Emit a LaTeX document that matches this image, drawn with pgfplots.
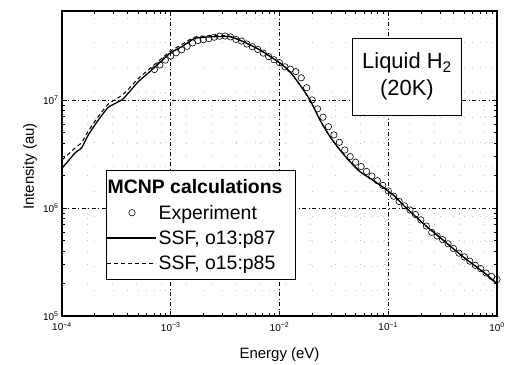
\documentclass[border=0pt]{standalone}
\usepackage{fontspec}
\setmainfont{Liberation Sans}
\usepackage{pgfplots}
\usepackage{pgfplotstable}
\pgfplotsset{compat=1.18}
\pgfplotsset{
  lineleg/.style={legend image code/.code={\draw[##1] (0bp,0bp) -- (49bp,0bp);}},
  markleg/.style={legend image code/.code={\draw[##1] plot coordinates {(25bp,0bp)};}},
}

\pgfplotstableread{
x y
1.000e-4 2.332e6
1.317e-4 3.231e6
1.518e-4 3.617e6
1.745e-4 4.742e6
2.157e-4 6.528e6
2.666e-4 8.557e6
3.540e-4 1.000e7
3.935e-4 1.112e7
5.030e-4 1.477e7
6.679e-4 1.896e7
9.842e-4 2.707e7
1.261e-3 3.115e7
1.671e-3 3.727e7
2.462e-3 3.856e7
3.506e-3 3.856e7
4.647e-3 3.465e7
6.618e-3 2.904e7
1.011e-2 2.200e7
1.249e-2 1.828e7
1.544e-2 1.377e7
1.908e-2 1.000e7
2.357e-2 6.528e6
2.913e-2 4.574e6
3.600e-2 3.443e6
4.449e-2 2.684e6
5.498e-2 2.168e6
6.796e-2 1.884e6
8.400e-2 1.633e6
0.1113 1.319e6
0.1426 1.028e6
0.2177 6.959e5
0.3325 4.875e5
0.5078 3.421e5
0.7757 2.486e5
1.000 1.978e5
}\ssfa

\pgfplotstableread{
x y
1.000e-4 2.783e6
1.317e-4 3.594e6
1.518e-4 4.040e6
1.745e-4 5.160e6
2.157e-4 7.030e6
2.666e-4 9.180e6
3.540e-4 1.101e7
3.935e-4 1.212e7
5.030e-4 1.581e7
6.679e-4 2.021e7
9.842e-4 2.812e7
1.261e-3 3.265e7
1.671e-3 3.831e7
2.462e-3 3.956e7
3.506e-3 3.897e7
4.647e-3 3.465e7
6.618e-3 2.904e7
1.011e-2 2.200e7
1.249e-2 1.828e7
1.544e-2 1.377e7
1.908e-2 1.000e7
2.357e-2 6.528e6
2.913e-2 4.574e6
3.600e-2 3.443e6
4.449e-2 2.684e6
5.498e-2 2.168e6
6.796e-2 1.884e6
8.400e-2 1.633e6
0.1113 1.319e6
0.1426 1.028e6
0.2177 6.959e5
0.3325 4.875e5
0.5078 3.421e5
0.7757 2.486e5
1.000 1.978e5
}\ssfb

\pgfplotstableread{
x y
7.079e-4 1.916e7
7.943e-4 2.110e7
8.913e-4 2.342e7
1.000e-3 2.560e7
1.122e-3 2.735e7
1.259e-3 2.916e7
1.413e-3 3.143e7
1.585e-3 3.378e7
1.778e-3 3.555e7
1.995e-3 3.624e7
2.239e-3 3.702e7
2.512e-3 3.814e7
2.818e-3 3.896e7
3.162e-3 3.913e7
3.548e-3 3.839e7
3.981e-3 3.640e7
4.467e-3 3.518e7
5.012e-3 3.300e7
5.623e-3 3.115e7
6.310e-3 2.941e7
7.079e-3 2.718e7
7.943e-3 2.523e7
8.913e-3 2.361e7
1.000e-2 2.215e7
1.122e-2 2.030e7
1.259e-2 1.929e7
1.413e-2 1.832e7
1.585e-2 1.606e7
1.778e-2 1.300e7
1.995e-2 1.002e7
2.239e-2 8.287e6
2.512e-2 6.930e6
2.818e-2 5.659e6
3.162e-2 4.753e6
3.548e-2 4.058e6
3.981e-2 3.443e6
4.467e-2 2.991e6
5.012e-2 2.655e6
5.623e-2 2.417e6
6.310e-2 2.178e6
7.079e-2 1.979e6
7.943e-2 1.790e6
8.913e-2 1.619e6
0.1000 1.437e6
0.1122 1.286e6
0.1259 1.151e6
0.1413 1.048e6
0.1585 9.583e5
0.1778 8.707e5
0.1995 7.759e5
0.2239 6.813e5
0.2512 5.957e5
0.2818 5.506e5
0.3162 5.098e5
0.3548 4.661e5
0.3981 4.217e5
0.4467 3.823e5
0.5012 3.526e5
0.5623 3.217e5
0.6310 2.947e5
0.7079 2.747e5
0.7943 2.501e5
0.8913 2.321e5
1.0000 2.178e5
}\expdata

\begin{document}
\begin{tikzpicture}
\begin{axis}[
  name=ax,
  scale only axis, width=435bp, height=305bp,
  xmode=log, ymode=log,
  xmin=1e-4, xmax=1, ymin=1e5, ymax=6.67e7,
  xtick={1e-4,1e-3,1e-2,1e-1,1},
  xticklabels={10\textsuperscript{−4},10\textsuperscript{−3},10\textsuperscript{−2},10\textsuperscript{−1},10\textsuperscript{0}},
  ytick={1e5,1e6,1e7},
  yticklabels={10\textsuperscript{5},10\textsuperscript{6},10\textsuperscript{7}},
  tick align=inside,
  xtick pos=both, ytick pos=both,
  xticklabel pos=lower, yticklabel pos=left,
  major tick length=5bp, minor tick length=3bp,
  axis line style={line width=1.2bp},
  every tick/.style={black, line width=0.8bp},
  grid=both,
  major grid style={black, line width=0.5bp, dash pattern=on 4bp off 2.5bp on 1bp off 2.5bp},
  minor grid style={gray!50, line width=0.8bp, dash pattern=on 0.8bp off 24bp},
  tick label style={font=\fontsize{10}{12}\selectfont},
  xticklabel style={yshift=-3bp},
  xlabel={Energy (eV)}, ylabel={Intensity (au)},
  label style={font=\fontsize{15}{18}\selectfont},
  xlabel style={at={(axis description cs:0.5,-0.128)}, anchor=center},
  ylabel style={at={(axis description cs:-0.0736,0.49)}, anchor=center},
  legend cell align=left,
  legend style={at={(0.1011,0.4787)}, anchor=north west, draw=black, line width=0.8bp, fill=white,
    font=\fontsize{19.5}{23}\selectfont, inner xsep=0bp, inner ysep=7bp, row sep=6bp,
    /tikz/every even column/.append style={column sep=5bp}},
  clip=false,
]
\addlegendimage{empty legend}
\addlegendentry{\hspace*{-51bp}\textbf{MCNP calculations}}

\addplot[only marks, mark=o, mark size=3.2bp, mark options={line width=0.6bp, black}, markleg]
  table[x=x,y=y] {\expdata};
\addlegendentry{Experiment}

\addplot[black, line width=1.3bp, smooth, tension=0.3, lineleg]
  table[x=x,y=y] {\ssfa};
\addlegendentry{SSF, o13:p87\rule{18bp}{0bp}}

\addplot[black, line width=1bp, dash pattern=on 4bp off 3bp, smooth, tension=0.3, lineleg]
  table[x=x,y=y] {\ssfb};
\addlegendentry{SSF, o15:p85}

\node[draw, fill=white, line width=0.8bp, minimum width=109bp, minimum height=77bp,
  inner sep=0pt, align=center, font=\fontsize{22}{27}\selectfont]
  at (rel axis cs:0.793,0.785) {Liquid H\textsubscript{2}\\(20K)};
\end{axis}
\pgfresetboundingbox
\path ([xshift=-62bp,yshift=-48bp]ax.south west) rectangle ([xshift=8bp,yshift=11bp]ax.north east);
\end{tikzpicture}
\end{document}
